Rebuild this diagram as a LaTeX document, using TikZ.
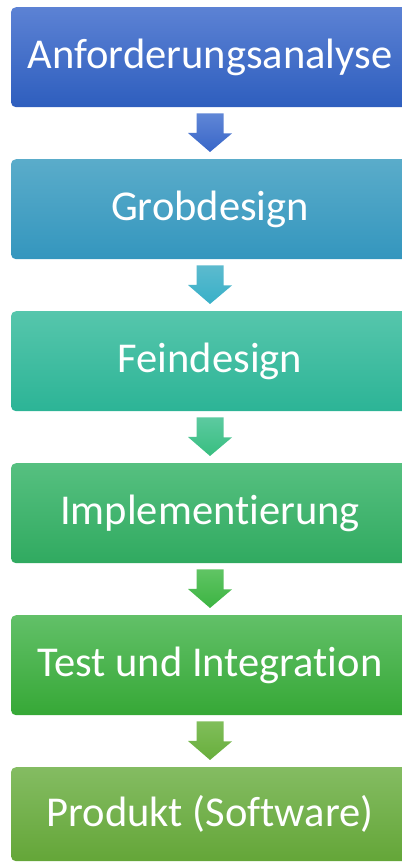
\documentclass[tikz,border=0pt]{standalone}
\usepackage{fontspec}
\setmainfont{Carlito}[Ligatures=NoCommon]
\usetikzlibrary{calc}
\definecolor{aT}{RGB}{92,130,212}\definecolor{aB}{RGB}{46,94,190}
\definecolor{bT}{RGB}{90,172,202}\definecolor{bB}{RGB}{52,150,190}
\definecolor{cT}{RGB}{86,198,172}\definecolor{cB}{RGB}{44,180,150}
\definecolor{dT}{RGB}{86,192,128}\definecolor{dB}{RGB}{48,170,96}
\definecolor{eT}{RGB}{98,192,104}\definecolor{eB}{RGB}{54,168,54}
\definecolor{fT}{RGB}{132,188,98}\definecolor{fB}{RGB}{100,166,56}
\definecolor{a1T}{RGB}{96,134,214}\definecolor{a1B}{RGB}{56,102,200}
\definecolor{a2T}{RGB}{92,186,206}\definecolor{a2B}{RGB}{56,176,200}
\definecolor{a3T}{RGB}{92,202,160}\definecolor{a3B}{RGB}{56,190,128}
\definecolor{a4T}{RGB}{96,196,100}\definecolor{a4B}{RGB}{60,180,66}
\definecolor{a5T}{RGB}{128,190,90}\definecolor{a5B}{RGB}{104,174,60}
\newcommand{\flowarr}[4]{%
  \shade[top color=#3,bottom color=#4]
    ($(#1.south)+(-13.5,-6)$) -- ++(27,0) -- ++(0,-20) -- ++(8.5,0)
    -- ($(#2.north)+(0,7)$) -- ++(-22,19) -- ++(8.5,0) -- cycle;}
\begin{document}
\begin{tikzpicture}[x=1pt,y=1pt,
  stage/.style={rounded corners=5pt, minimum width=398pt, minimum height=100pt,
    inner sep=0pt, text=white, font=\fontsize{42.5}{50}\selectfont, anchor=north}]
\useasboundingbox (0,0) rectangle (402,863);
\clip (0,0) rectangle (402,863);
\node[stage, top color=aT, bottom color=aB] (b1) at (210,856) {Anforderungsanalyse};
\node[stage, top color=bT, bottom color=bB] (b2) at (210,704) {Grobdesign};
\node[stage, top color=cT, bottom color=cB] (b3) at (210,552) {Feindesign};
\node[stage, top color=dT, bottom color=dB] (b4) at (210,400) {Implementierung};
\node[stage, top color=eT, bottom color=eB] (b5) at (210,248) {Test und Integration};
\node[stage, top color=fT, bottom color=fB, minimum height=94pt] (b6) at (210,96) {Produkt (Software)};
\flowarr{b1}{b2}{a1T}{a1B}
\flowarr{b2}{b3}{a2T}{a2B}
\flowarr{b3}{b4}{a3T}{a3B}
\flowarr{b4}{b5}{a4T}{a4B}
\flowarr{b5}{b6}{a5T}{a5B}
\end{tikzpicture}
\end{document}
